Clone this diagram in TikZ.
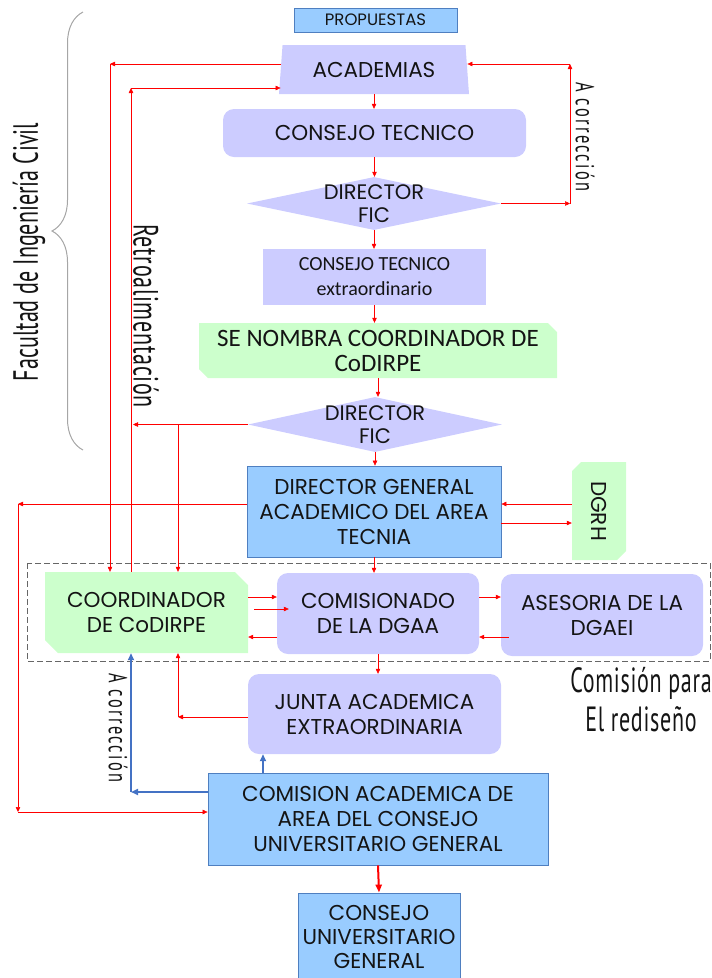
\documentclass[tikz,border=0pt]{standalone}
\usepackage{fontspec}
\setmainfont{Poppins}
\newfontfamily\angosta[FakeStretch=0.63]{PT Sans}
\newfontfamily\calibri{Carlito}
\usetikzlibrary{shapes.geometric,shapes.misc,arrows.meta,decorations.pathreplacing,calc}
\definecolor{lila}{HTML}{CCCCFF}
\definecolor{menta}{HTML}{CCFFCC}
\definecolor{celeste}{HTML}{99CCFF}
\definecolor{borde}{HTML}{4F7FC0}
\definecolor{azul}{HTML}{4472C4}
\definecolor{texto}{HTML}{141414}
\tikzset{
  textonodo/.style={align=center, inner sep=0pt, text=texto, font=\fontsize{21.5}{25}\selectfont},
  cajaazul/.style={textonodo, rectangle, fill=celeste, draw=borde, line width=0.8pt},
  cajalila/.style={textonodo, rectangle, rounded corners=11pt, fill=lila},
  cajaverde/.style={textonodo, chamfered rectangle, chamfered rectangle corners={north east,south west},
    chamfered rectangle xsep=#1, chamfered rectangle ysep=#1, fill=menta},
  cajaverde/.default=4.5pt,
  rombo/.style={diamond, inner sep=0pt, fill=lila},
  flecha/.style={-{Triangle[length=5pt,width=4.5pt]}, red, line width=0.5pt},
  gruesa/.style={-{Triangle[length=7pt,width=6pt]}, azul, line width=2pt},
  rotulo/.style={inner sep=0pt, text=texto, font=\angosta\fontsize{35}{39}\selectfont},
}
\begin{document}
\begin{tikzpicture}[x=1pt, y=-1pt]
\useasboundingbox (0,0) rectangle (712,978);

\draw[decorate, decoration={brace, amplitude=31pt}, gray!70, line width=1pt] (83,450) -- (83,12);
\draw[gray!80!black, dashed, line width=0.8pt, dash pattern=on 6pt off 3pt] (27,563) rectangle (710,661);

\node[cajaazul, minimum width=163, minimum height=24, font=\fontsize{16.5}{18}\selectfont] (prop) at (375.5,20) {PROPUESTAS};
\node[textonodo, trapezium, trapezium left angle=77, trapezium right angle=77, trapezium stretches body,
  minimum width=190, minimum height=49, fill=lila] (acad) at (374,69.5) {ACADEMIAS};
\node[cajalila, minimum width=303, minimum height=48] (ct1) at (374.5,133) {CONSEJO TECNICO};
\node[rombo, minimum width=254, minimum height=53, label={[textonodo, font=\fontsize{21}{23}\selectfont]center:DIRECTOR\\FIC}] (dir1) at (374,203.5) {};
\node[cajalila, rounded corners=0pt, minimum width=223, minimum height=56, font=\calibri\fontsize{20}{25}\selectfont] (ct2) at (374.5,277) {CONSEJO TECNICO\\extraordinario};
\node[cajaverde, minimum width=358, minimum height=55, font=\calibri\fontsize{25}{25}\selectfont] (nombra) at (378,350.5) {SE NOMBRA COORDINADOR DE\\CoDIRPE};
\node[rombo, minimum width=254, minimum height=55, label={[textonodo, font=\fontsize{21}{23}\selectfont]center:DIRECTOR\\FIC}] (dir2) at (375,424.5) {};
\node[cajaazul, minimum width=254, minimum height=91] (dga) at (374,511.5) {DIRECTOR GENERAL\\ACADEMICO DEL AREA\\TECNIA};
\node[cajaverde, rotate=-90, minimum width=98, minimum height=54] (dgrh) at (599,511) {DGRH};
\node[cajaverde=6.5pt, minimum width=203, minimum height=81] (coord) at (146.5,612.5) {COORDINADOR\\DE CoDIRPE};
\node[cajalila, minimum width=202, minimum height=81] (comi) at (378,613.5) {COMISIONADO\\DE LA DGAA};
\node[cajalila, minimum width=202, minimum height=82] (ases) at (602,615) {ASESORIA DE LA\\DGAEI};
\node[cajalila, minimum width=253, minimum height=80] (junta) at (374.5,714) {JUNTA ACADEMICA\\EXTRAORDINARIA};
\node[cajaazul, minimum width=340, minimum height=92] (cag) at (378,819) {COMISION ACADEMICA DE\\AREA DEL CONSEJO\\UNIVERSITARIO GENERAL};
\node[cajaazul, minimum width=162, minimum height=88, font=\fontsize{21.5}{24}\selectfont] (cug) at (379,937) {CONSEJO\\UNIVERSITARIO\\GENERAL};

\node[rotulo, rotate=90] (facu) at (29,252) {Facultad de Ingeniería Civil};
\node[rotulo, rotate=-90, font=\angosta\addfontfeature{LetterSpace=2}\fontsize{35}{39}\selectfont] (retro) at (146,316) {Retroalimentación};
\node[rotulo, rotate=-90, font=\angosta\addfontfeature{LetterSpace=9}\fontsize{26}{26}\selectfont] (corr1) at (585,137) {A corrección};
\node[rotulo, rotate=-90, font=\angosta\addfontfeature{LetterSpace=9}\fontsize{26}{26}\selectfont] (corr2) at (118,728) {A corrección};
\node[rotulo, align=center, font=\angosta\addfontfeature{LetterSpace=2}\fontsize{35}{39}\selectfont] (redis) at (641,700) {Comisión para\\El rediseño};

\foreach \a/\b in {acad/ct1, ct1/dir1, dir1/ct2, ct2/nombra, nombra/dir2, dir2/dga, dga/comi, comi/junta}
  \draw[flecha] (\a.south) -- (\a.south |- \b.north);

\coordinate (r1) at (570,203.5);
\coordinate (r2) at (570,64);
\draw[flecha] (dir1.east) -- (r1);
\draw[flecha] (r1) -- (r2);
\draw[flecha] (r2) -- (r2 -| acad.east);

\coordinate (l1) at (110,64);
\coordinate (l2) at (131,88);
\coordinate (l3) at (133,424.5);
\coordinate (l4) at (178,424.5);
\coordinate (l5) at (178,717);
\draw[flecha] (acad.west |- l1) -- (l1);
\draw[flecha] (l1) -- (l1 |- coord.north);
\draw[flecha] (l2 |- coord.north) -- (l2);
\draw[flecha] (l2) -- (l2 -| acad.west);
\draw[flecha] (dir2.west) -- (l3);
\draw[flecha] (l4) -- (l4 |- coord.north);
\draw[flecha] (junta.west |- l5) -- (l5);
\draw[flecha] (l5) -- (l5 |- coord.south);

\coordinate (l6) at (18,504);
\coordinate (l7) at (18,812);
\draw[flecha] (dga.west |- l6) -- (l6);
\draw[flecha] (l6) -- (l7);
\draw[flecha] (l7) -- (l7 -| cag.west);
\draw[flecha] (dgrh.south |- l6) -- (dga.east |- l6);
\draw[flecha] (dga.east |- 0,523) -- (dgrh.south |- 0,523);

\draw[flecha] (coord.east |- 0,597) -- (comi.west |- 0,597);
\draw[flecha] ($(coord.east |- 0,609)+(6,0)$) -- ($(comi.west |- 0,609)+(12,0)$);
\draw[flecha] (comi.west |- 0,637) -- (coord.east |- 0,637);
\draw[flecha] (comi.east |- 0,597) -- (ases.west |- 0,597);
\draw[flecha] ($(ases.west |- 0,637)+(8,0)$) -- (comi.east |- 0,637);

\coordinate (b1) at (131,792);
\draw[gruesa] (cag.north -| 263,0) -- (junta.south -| 263,0);
\draw[gruesa] (cag.west |- b1) -- (b1);
\draw[gruesa] (b1) -- (b1 |- coord.south);
\draw[-{Triangle[length=8pt,width=6pt]}, red, line width=2pt] (cag.south) -- (cug.north);
\end{tikzpicture}
\end{document}
